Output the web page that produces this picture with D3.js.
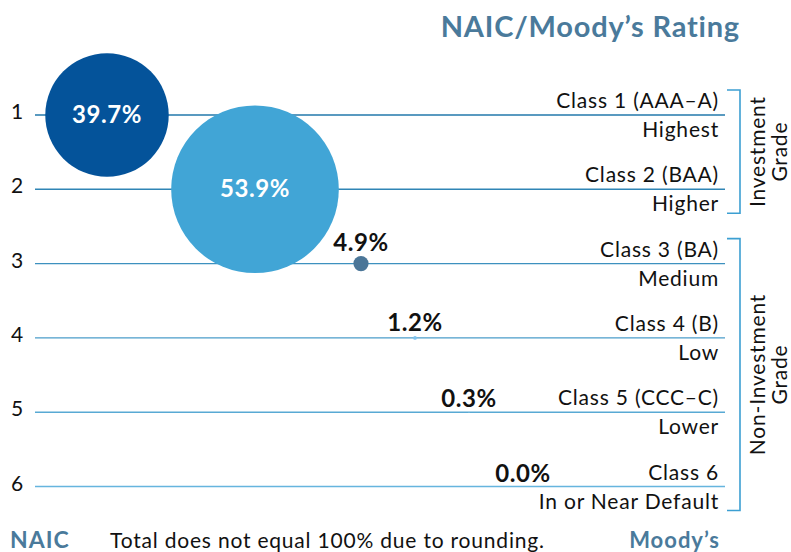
<!DOCTYPE html>
<html>
<head>
<meta charset="utf-8">
<script src="https://cdn.jsdelivr.net/npm/d3@7"></script>
<style>
  body { margin: 0; background: #fff; }
  svg { display: block; font-family: Lato, "Open Sans", sans-serif; }
</style>
</head>
<body>
<svg id="chart" width="791" height="552"></svg>
<script>
// NAIC class per row
const classes = [1, 2, 3, 4, 5, 6];
// share of holdings, percent
const shares = [39.7, 53.9, 4.9, 1.2, 0.3, 0.0];
const classLabels = ["Class 1 (AAA\u2013A)", "Class 2 (BAA)", "Class 3 (BA)", "Class 4 (B)", "Class 5 (CCC\u2013C)", "Class 6"];
const qualityLabels = ["Highest", "Higher", "Medium", "Low", "Lower", "In or Near Default"];
const groups = [
  { lines: ["Investment", "Grade"], from: 1, to: 2 },
  { lines: ["Non-Investment", "Grade"], from: 3, to: 6 }
];

const bubbleColors = ["#04539a", "#41a5d6", "#4b7698", "#7fc3ee", "#9fd3f0", "#9fd3f0"];
const steel = "#4a7a9b";

const svg = d3.select("#chart");

const y = d3.scaleLinear().domain([1, 6]).range([115, 486.5]);
// bubble centres: first two packed, the rest stepped
const x = d3.scaleLinear().domain([0, 1, 2, 5]).range([107, 255, 361, 523]);
const r = d3.scaleLinear().domain([0, 100]).range([0, 155.5]);
const lineColor = d3.scaleLinear().domain([1, 6]).range(["#2279ab", "#66b5de"]);

const x0 = 35, x1 = 725;

// title
svg.append("text")
  .attr("x", 740).attr("y", 37)
  .attr("text-anchor", "end")
  .style("font-size", "29px").style("font-weight", "bold")
  .style("letter-spacing", "0.8px")
  .style("fill", steel)
  .text("NAIC/Moody\u2019s Rating");

// row lines
svg.selectAll(".row-line").data(classes).enter().append("line")
  .attr("class", "row-line")
  .attr("x1", x0).attr("x2", x1)
  .attr("y1", d => y(d)).attr("y2", d => y(d))
  .attr("stroke", d => lineColor(d))
  .attr("stroke-width", 1.4);

// left class numbers
svg.selectAll(".num").data(classes).enter().append("text")
  .attr("class", "num")
  .attr("x", 17).attr("y", d => y(d) + 4)
  .attr("text-anchor", "middle")
  .style("font-size", "21px").style("fill", "#111")
  .text(d => d);

// right labels
svg.selectAll(".cls").data(classes).enter().append("text")
  .attr("class", "cls")
  .attr("x", 719).attr("y", d => y(d) - 7)
  .attr("text-anchor", "end")
  .style("font-size", "21px").style("letter-spacing", "0.8px").style("fill", "#111")
  .text((d, i) => classLabels[i]);

svg.selectAll(".qual").data(classes).enter().append("text")
  .attr("class", "qual")
  .attr("x", 719).attr("y", d => y(d) + 22)
  .attr("text-anchor", "end")
  .style("font-size", "21px").style("letter-spacing", "0.8px").style("fill", "#111")
  .text((d, i) => qualityLabels[i]);

// bubbles
const bubbles = classes.map((c, i) => ({ c, v: shares[i], i }));

svg.selectAll(".bubble").data(bubbles).enter().append("circle")
  .attr("class", "bubble")
  .attr("cx", d => x(d.i)).attr("cy", d => y(d.c))
  .attr("r", d => r(d.v))
  .attr("fill", d => bubbleColors[d.i]);

svg.selectAll(".val").data(bubbles).enter().append("text")
  .attr("class", "val")
  .attr("x", d => x(d.i))
  .attr("y", d => r(d.v) > 30 ? y(d.c) + 8 : y(d.c) - r(d.v) - 5)
  .attr("text-anchor", "middle")
  .style("font-size", "24px").style("font-weight", "bold")
  .style("letter-spacing", "0.6px")
  .style("fill", d => r(d.v) > 30 ? "#fff" : "#111")
  .text(d => d.v.toFixed(1) + "%");

// brackets
const gb = svg.selectAll(".grp").data(groups).enter().append("g").attr("class", "grp");
gb.append("path")
  .attr("d", d => {
    const top = y(d.from) - 25, bot = y(d.to) + 24;
    return `M727,${top}H740V${bot}H727`;
  })
  .attr("fill", "none").attr("stroke", "#3c9fd2").attr("stroke-width", 1.6);

gb.each(function(d) {
  const mid = (y(d.from) - 25 + y(d.to) + 24) / 2;
  const t = d3.select(this).append("text")
    .attr("transform", `translate(765,${mid}) rotate(-90)`)
    .attr("text-anchor", "middle")
    .style("font-size", "21px").style("letter-spacing", "0.8px").style("fill", "#111");
  d.lines.forEach((ln, k) => {
    t.append("tspan").attr("x", 0).attr("dy", k === 0 ? 0 : 22).text(ln);
  });
});

// footer
svg.append("text").attr("x", 10).attr("y", 548)
  .style("font-size", "23px").style("font-weight", "bold")
  .style("letter-spacing", "1px").style("fill", steel)
  .text("NAIC");
svg.append("text").attr("x", 110).attr("y", 548)
  .style("font-size", "21px").style("letter-spacing", "0.8px").style("fill", "#111")
  .text("Total does not equal 100% due to rounding.");
svg.append("text").attr("x", 720).attr("y", 548)
  .attr("text-anchor", "end")
  .style("font-size", "22px").style("font-weight", "bold")
  .style("letter-spacing", "1px").style("fill", steel)
  .text("Moody\u2019s");
</script>
</body>
</html>
